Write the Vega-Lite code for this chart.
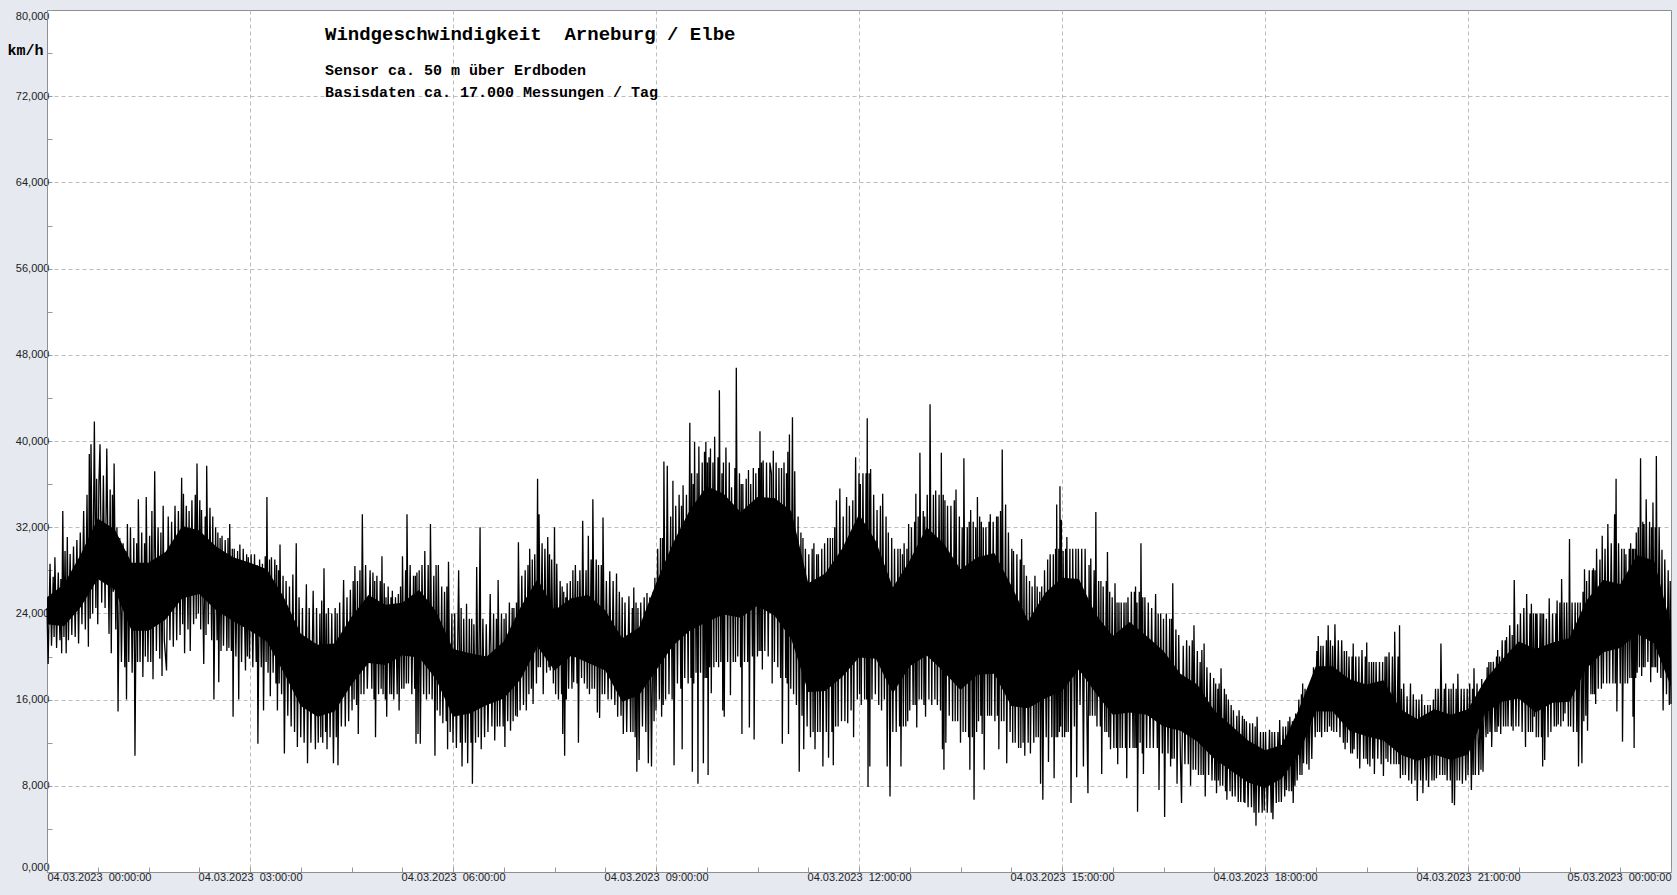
{
"$schema": "https://vega.github.io/schema/vega-lite/v6.json",
"width": 1624, "height": 862,
"autosize": {"type": "none"},
"padding": {"left": 47, "top": 10, "right": 6, "bottom": 23},
"background": "#e6e9f0",
"config": {"view": {"fill": "#ffffff", "stroke": "#8f8f8f", "strokeWidth": 1}, "font": "Liberation Sans"},
"title": {"text": "Windgeschwindigkeit\u00a0 Arneburg / Elbe", "subtitle": ["Sensor ca. 50 m über Erdboden", "Basisdaten ca. 17.000 Messungen / Tag"], "orient": "top", "anchor": "start", "frame": "group", "dx": 278, "offset": -90, "font": "Liberation Mono", "fontSize": 19, "fontWeight": "bold", "color": "#000000", "subtitleFont": "Liberation Mono", "subtitleFontSize": 15, "subtitleFontWeight": "bold", "subtitleColor": "#000000", "subtitlePadding": 19, "subtitleLineHeight": 21.5},
"datasets": {
"band": [
{"m":0,"lo":23,"hi":25.5},{"m":15,"lo":22.8,"hi":26.7},{"m":30,"lo":24.6,"hi":29.5},{"m":45,"lo":27.2,"hi":32.8},{"m":60,"lo":26.2,"hi":31.8},{"m":75,"lo":22.4,"hi":28.7},{"m":90,"lo":22.4,"hi":28.7},{"m":105,"lo":23.4,"hi":29.7},{"m":120,"lo":25.4,"hi":32.1},{"m":135,"lo":25.8,"hi":31.7},{"m":150,"lo":24.3,"hi":30.2},{"m":165,"lo":23.3,"hi":29.2},{"m":180,"lo":22.4,"hi":28.7},{"m":195,"lo":21.4,"hi":28.1},{"m":210,"lo":18.5,"hi":25.5},{"m":225,"lo":15.4,"hi":22.1},{"m":240,"lo":14.4,"hi":21.1},{"m":255,"lo":14.9,"hi":21.2},{"m":270,"lo":17.4,"hi":23.7},{"m":285,"lo":19.4,"hi":25.7},{"m":300,"lo":19.2,"hi":24.8},{"m":315,"lo":20.1,"hi":25},{"m":330,"lo":19.9,"hi":26.2},{"m":345,"lo":17.9,"hi":24.2},{"m":360,"lo":14.4,"hi":20.7},{"m":375,"lo":14.7,"hi":20.3},{"m":390,"lo":15.5,"hi":20},{"m":405,"lo":16.1,"hi":21.4},{"m":420,"lo":17.9,"hi":24.6},{"m":435,"lo":20.9,"hi":27.2},{"m":450,"lo":18.7,"hi":24.3},{"m":465,"lo":20.1,"hi":25.4},{"m":480,"lo":19.4,"hi":25.7},{"m":495,"lo":18.7,"hi":24.3},{"m":510,"lo":15.8,"hi":21.7},{"m":525,"lo":16.4,"hi":22.7},{"m":540,"lo":18.7,"hi":26.8},{"m":555,"lo":21,"hi":30.5},{"m":570,"lo":22.4,"hi":33.6},{"m":585,"lo":23.2,"hi":35.8},{"m":600,"lo":23.9,"hi":35.1},{"m":615,"lo":23.6,"hi":33.4},{"m":630,"lo":24.7,"hi":34.8},{"m":645,"lo":23.8,"hi":34.7},{"m":660,"lo":21.6,"hi":33.5},{"m":675,"lo":16.7,"hi":26.8},{"m":690,"lo":16.8,"hi":27.7},{"m":705,"lo":18.1,"hi":30},{"m":720,"lo":19.9,"hi":33.2},{"m":735,"lo":19.8,"hi":30.7},{"m":750,"lo":16.6,"hi":26.4},{"m":765,"lo":19.1,"hi":28.9},{"m":780,"lo":20.1,"hi":32},{"m":795,"lo":18.6,"hi":30.5},{"m":810,"lo":16.9,"hi":28.1},{"m":825,"lo":18.3,"hi":29.2},{"m":840,"lo":18.4,"hi":29.6},{"m":855,"lo":15.4,"hi":26.6},{"m":870,"lo":15.2,"hi":23.3},{"m":885,"lo":16.1,"hi":25.9},{"m":900,"lo":16.8,"hi":27.3},{"m":915,"lo":18.8,"hi":27.2},{"m":930,"lo":16.6,"hi":23.9},{"m":945,"lo":14.6,"hi":21.9},{"m":960,"lo":14.8,"hi":23.2},{"m":975,"lo":14.6,"hi":21.9},{"m":990,"lo":13.5,"hi":20.5},{"m":1005,"lo":13.1,"hi":18.4},{"m":1020,"lo":12.1,"hi":17.4},{"m":1035,"lo":10.5,"hi":15},{"m":1050,"lo":9.4,"hi":13.6},{"m":1065,"lo":8.3,"hi":12.2},{"m":1080,"lo":7.8,"hi":11.3},{"m":1095,"lo":8.7,"hi":11.8},{"m":1110,"lo":10.9,"hi":15.1},{"m":1125,"lo":14.9,"hi":19.1},{"m":1140,"lo":14.9,"hi":19.1},{"m":1155,"lo":13.1,"hi":17.9},{"m":1170,"lo":12.6,"hi":17.4},{"m":1185,"lo":12.2,"hi":17.8},{"m":1200,"lo":10.9,"hi":15.1},{"m":1215,"lo":10.3,"hi":14.2},{"m":1230,"lo":10.9,"hi":15.1},{"m":1245,"lo":10.4,"hi":14.6},{"m":1260,"lo":10.9,"hi":15.1},{"m":1275,"lo":14.7,"hi":17.8},{"m":1290,"lo":15.8,"hi":19.7},{"m":1305,"lo":16.1,"hi":21.4},{"m":1320,"lo":14.8,"hi":20.7},{"m":1335,"lo":15.7,"hi":21.3},{"m":1350,"lo":15.8,"hi":21.7},{"m":1365,"lo":18.9,"hi":25.2},{"m":1380,"lo":20.4,"hi":27.1},{"m":1395,"lo":20.8,"hi":26.7},{"m":1410,"lo":22.1,"hi":29.4},{"m":1425,"lo":21.2,"hi":28.9},{"m":1440,"lo":17.2,"hi":22.8}
],
"wind": [
{"m":0,"v":24.5},{"m":1,"v":19.3},{"m":2.7,"v":28.6},{"m":4,"v":21},{"m":5.5,"v":27.4},{"m":6.3,"v":21.8},{"m":7,"v":29.2},{"m":8.5,"v":20.8},{"m":10,"v":27.8},{"m":11.5,"v":21.5},{"m":12.3,"v":27.2},{"m":13,"v":20.3},{"m":14,"v":33.5},
{"m":15,"v":21.8},{"m":16,"v":29.8},{"m":17,"v":20.3},{"m":18,"v":31.1},{"m":19,"v":21.5},{"m":20.5,"v":29.5},{"m":22,"v":22},{"m":23.5,"v":30.2},{"m":25,"v":21.8},{"m":26.5,"v":30.8},{"m":28,"v":21.2},{"m":29.5,"v":31.5},
{"m":31,"v":23},{"m":32.5,"v":33.5},{"m":34,"v":22.5},{"m":35.5,"v":35},{"m":36.7,"v":20.9},{"m":37.5,"v":38.8},{"m":38.3,"v":23.5},{"m":39,"v":39.7},{"m":40.5,"v":24},{"m":42,"v":41.8},{"m":43.3,"v":24.5},{"m":44,"v":36.5},{"m":45,"v":23},
{"m":46,"v":36},{"m":47,"v":39.7},{"m":48.5,"v":25},{"m":50,"v":36.8},{"m":51.5,"v":24.5},{"m":53,"v":39.3},{"m":55,"v":22.1},{"m":56,"v":35.5},{"m":57,"v":20.3},{"m":58,"v":35},{"m":58.8,"v":26},{"m":59.5,"v":37.9},
{"m":61,"v":22.5},{"m":62,"v":32},{"m":63,"v":14.9},{"m":64.5,"v":31},{"m":66,"v":19.5},{"m":67.5,"v":30.5},{"m":69,"v":19},{"m":69.8,"v":29.8},{"m":70.5,"v":16},{"m":71.3,"v":32.3},{"m":72.5,"v":19.5},{"m":74,"v":32},
{"m":75.5,"v":18.5},{"m":77,"v":31},{"m":78,"v":10.8},{"m":79.5,"v":30.5},{"m":80.3,"v":19.5},{"m":81,"v":34.6},{"m":82.5,"v":19.5},{"m":84,"v":31.5},{"m":85,"v":18.1},{"m":86.5,"v":30.5},{"m":87.2,"v":20},{"m":88,"v":34.8},{"m":89.5,"v":19.5},
{"m":91,"v":31.2},{"m":92,"v":19.5},{"m":93,"v":33.5},{"m":94,"v":17.9},{"m":95.5,"v":37.2},{"m":97,"v":20.5},{"m":98.5,"v":32},{"m":100,"v":19.8},{"m":101,"v":31.5},{"m":102,"v":18.2},{"m":103,"v":34},{"m":104,"v":21.5},
{"m":106,"v":18.7},{"m":107.5,"v":33},{"m":109,"v":21.5},{"m":110.5,"v":32.5},{"m":112,"v":20.9},{"m":113.5,"v":34},{"m":115,"v":21.5},{"m":116.5,"v":33.5},{"m":118,"v":22},{"m":119.4,"v":36.6},
{"m":120.3,"v":23},{"m":121,"v":35.1},{"m":122,"v":20.3},{"m":123.5,"v":34},{"m":125,"v":22.5},{"m":126,"v":33.5},{"m":127,"v":20.5},{"m":128.5,"v":34.5},{"m":130,"v":23},{"m":131.5,"v":35},{"m":132.3,"v":23.5},{"m":133,"v":37.9},{"m":134.2,"v":24},
{"m":135.5,"v":34.5},{"m":136.3,"v":22.5},{"m":137,"v":33.6},{"m":139,"v":19.3},{"m":140.3,"v":33},{"m":141,"v":22},{"m":141.6,"v":37.7},{"m":143,"v":23},{"m":144.5,"v":33.8},{"m":146,"v":21.5},{"m":147,"v":33},{"m":148,"v":16},{"m":149.5,"v":32},
{"m":150.8,"v":21.5},{"m":151.5,"v":31.5},{"m":152.3,"v":17.6},{"m":153.5,"v":31},{"m":154.3,"v":20.5},{"m":155.2,"v":31.2},{"m":156.5,"v":21},{"m":158,"v":30.8},{"m":159.5,"v":20.5},{"m":160.5,"v":31},{"m":161.3,"v":20.8},{"m":162,"v":32.3},{"m":163.5,"v":20.5},{"m":164.3,"v":30},{"m":165,"v":14.4},
{"m":166,"v":30},{"m":167.5,"v":20},{"m":169,"v":29.8},{"m":170,"v":16},{"m":171,"v":30.4},{"m":172.5,"v":19.5},{"m":174,"v":30},{"m":176,"v":18.7},{"m":177,"v":29.5},{"m":177.7,"v":20},{"m":178.5,"v":29.2},{"m":179.5,"v":19.8},
{"m":181,"v":29.5},{"m":182.5,"v":19},{"m":184,"v":29.5},{"m":185.5,"v":19.5},{"m":186.3,"v":28.5},{"m":187,"v":11.9},{"m":188.5,"v":29},{"m":190,"v":19},{"m":191,"v":28.6},{"m":192,"v":15},{"m":193.5,"v":29.3},{"m":194.3,"v":19.5},{"m":195,"v":34.8},
{"m":196,"v":18.5},{"m":197.3,"v":29},{"m":198,"v":16.3},{"m":199,"v":29.2},{"m":200.5,"v":18.5},{"m":202,"v":29},{"m":203,"v":17.5},{"m":203.6,"v":28.5},{"m":204.3,"v":15},{"m":205.3,"v":28},{"m":205.9,"v":17.5},{"m":206.6,"v":30.4},{"m":208,"v":16.5},{"m":209.3,"v":27.5},
{"m":210.5,"v":11},{"m":212,"v":27},{"m":213.5,"v":14.5},{"m":215,"v":26.5},{"m":216.5,"v":13.5},{"m":218,"v":27.6},{"m":219.5,"v":13},{"m":221,"v":30.5},{"m":222,"v":11.6},{"m":223.5,"v":25.5},{"m":225,"v":12.5},
{"m":226.5,"v":24.5},{"m":228,"v":12},{"m":230,"v":26.7},{"m":231,"v":10.1},{"m":232.5,"v":24.5},{"m":234,"v":12},{"m":236,"v":26.1},{"m":238,"v":11.4},{"m":239,"v":24.5},
{"m":240.5,"v":12},{"m":242,"v":24},{"m":242.8,"v":12.5},{"m":243.6,"v":25.2},{"m":244.5,"v":12},{"m":245.6,"v":28.2},{"m":247,"v":13},{"m":247.6,"v":24},{"m":248.3,"v":11.4},{"m":249.5,"v":24.5},{"m":251,"v":12.5},{"m":252.5,"v":24},{"m":254,"v":10.1},
{"m":255.5,"v":24.5},{"m":256.5,"v":12.5},{"m":257.3,"v":24},{"m":258,"v":9.9},{"m":259.5,"v":25},{"m":261,"v":13.5},{"m":263,"v":27.1},{"m":264.5,"v":13.5},{"m":266,"v":25.5},{"m":267.5,"v":14},{"m":269,"v":26.2},
{"m":270.5,"v":15},{"m":271.5,"v":27},{"m":272.3,"v":16},{"m":273,"v":28.4},{"m":274.5,"v":15.5},{"m":275.3,"v":27},{"m":276,"v":12.8},{"m":277.5,"v":28},{"m":278.5,"v":16.5},{"m":279.6,"v":33.2},{"m":281,"v":16.5},{"m":282.5,"v":28.5},{"m":284,"v":17},
{"m":286.5,"v":28},{"m":288,"v":17},{"m":289,"v":27.8},{"m":290,"v":16},{"m":290.6,"v":27},{"m":291.3,"v":12.5},{"m":292.5,"v":27.5},{"m":294,"v":16.5},{"m":295.5,"v":27},{"m":296.3,"v":17},{"m":297,"v":29.3},{"m":298,"v":16.5},{"m":299,"v":26.8},
{"m":300,"v":16},{"m":300.6,"v":25.5},{"m":301.2,"v":14.4},{"m":302.5,"v":26.5},{"m":304,"v":16.5},{"m":305,"v":25.5},{"m":305.6,"v":16.5},{"m":306.2,"v":26.1},{"m":307.5,"v":16},{"m":309,"v":25.5},{"m":310.5,"v":16.5},{"m":311.5,"v":25.8},{"m":312.2,"v":15},{"m":313.5,"v":26.5},{"m":314.5,"v":17},
{"m":315.2,"v":29.3},{"m":316.5,"v":17},{"m":318,"v":28},{"m":318.6,"v":17.5},{"m":319.2,"v":33.2},{"m":320.5,"v":17.5},{"m":322,"v":28.5},{"m":323.5,"v":16.5},{"m":325,"v":27.5},{"m":326,"v":17},{"m":326.6,"v":27.5},{"m":327.2,"v":11.9},{"m":328,"v":27.8},{"m":329,"v":12.8},{"m":330,"v":28},
{"m":331,"v":11.9},{"m":332.5,"v":28.5},{"m":334,"v":16.5},{"m":335,"v":29.8},{"m":336.5,"v":16},{"m":338,"v":28.5},{"m":339,"v":16.5},{"m":340,"v":32.3},{"m":341.5,"v":16},{"m":343,"v":27.5},{"m":344,"v":10.8},{"m":345,"v":28.5},
{"m":346,"v":15},{"m":347,"v":28.5},{"m":348.5,"v":14.5},{"m":350,"v":26.5},{"m":351,"v":13.8},{"m":352.5,"v":26},{"m":354,"v":14},{"m":354.6,"v":26.5},{"m":355.2,"v":11.4},{"m":356,"v":28.8},{"m":357.5,"v":13},{"m":359,"v":24},
{"m":360,"v":12},{"m":361.5,"v":24},{"m":363,"v":11.5},{"m":365,"v":28},{"m":366.5,"v":12},{"m":367.2,"v":24.5},{"m":368,"v":9.8},{"m":369.5,"v":23.5},{"m":371,"v":12},{"m":372,"v":24.9},{"m":373,"v":10.1},{"m":374.5,"v":23.5},
{"m":376,"v":12},{"m":376.6,"v":23.5},{"m":377.2,"v":8.2},{"m":378.5,"v":23},{"m":380,"v":12},{"m":381,"v":28.3},{"m":382.5,"v":12.5},{"m":384,"v":32},{"m":385,"v":11.4},{"m":386.5,"v":23.5},{"m":388,"v":12.5},{"m":389.5,"v":23},
{"m":391,"v":13},{"m":393,"v":25.8},{"m":394.5,"v":13.5},{"m":396,"v":24},{"m":397,"v":12.2},{"m":398.5,"v":23.5},{"m":399.3,"v":13.5},{"m":400,"v":27.1},{"m":401.5,"v":13.5},{"m":403,"v":24},{"m":404.5,"v":13.5},{"m":405.3,"v":23.5},{"m":406,"v":11.6},
{"m":407,"v":24},{"m":408.5,"v":14},{"m":410,"v":25},{"m":411,"v":13.1},{"m":412.5,"v":24.5},{"m":413.3,"v":14},{"m":414,"v":24.5},{"m":415.5,"v":14.5},{"m":416.3,"v":25},{"m":417,"v":14.4},{"m":418,"v":30.6},{"m":419.5,"v":15},
{"m":421,"v":27.5},{"m":422.5,"v":15.5},{"m":424,"v":28},{"m":425,"v":15},{"m":426.5,"v":28.5},{"m":427.3,"v":16.5},{"m":428,"v":30},{"m":429.5,"v":17},{"m":430.3,"v":29},{"m":431,"v":15.6},{"m":432.5,"v":29.5},{"m":434,"v":17.5},{"m":435,"v":36.5},
{"m":435.6,"v":19},{"m":436.3,"v":33.2},{"m":437.5,"v":19},{"m":439,"v":30.5},{"m":440,"v":16.5},{"m":441.5,"v":30},{"m":443,"v":18.5},{"m":444,"v":31.1},{"m":445,"v":19},{"m":445.6,"v":29.5},{"m":446.2,"v":18.7},{"m":447.5,"v":29},{"m":449,"v":17.5},{"m":450,"v":32},
{"m":451,"v":16.5},{"m":452,"v":28.6},{"m":453.5,"v":16},{"m":455,"v":27},{"m":456.3,"v":16.5},{"m":456.8,"v":26.5},{"m":457.3,"v":12.8},{"m":458.2,"v":26},{"m":459,"v":10.8},{"m":460,"v":25.5},{"m":460.5,"v":16},{"m":461.2,"v":26.8},{"m":462.5,"v":17},{"m":464,"v":27},
{"m":465.5,"v":17},{"m":466.3,"v":28},{"m":467,"v":17.6},{"m":468.5,"v":28.5},{"m":470,"v":17.5},{"m":470.6,"v":27},{"m":471.2,"v":12},{"m":472.5,"v":28},{"m":474,"v":18},{"m":475,"v":32.6},{"m":476.5,"v":17.5},{"m":478,"v":28},{"m":479,"v":17},{"m":480,"v":31.2},
{"m":481,"v":16.5},{"m":482.5,"v":29},{"m":483.3,"v":17},{"m":484,"v":34.6},{"m":485.5,"v":17},{"m":487,"v":29},{"m":488,"v":14.8},{"m":489,"v":28.5},{"m":490,"v":14.3},{"m":491.5,"v":28.5},{"m":492.3,"v":16.5},{"m":493,"v":32.9},{"m":494.5,"v":16.5},
{"m":496,"v":27},{"m":497.5,"v":16},{"m":499,"v":27.9},{"m":500.5,"v":16},{"m":502,"v":27},{"m":503.5,"v":15.5},{"m":505,"v":27.7},{"m":506,"v":14.4},{"m":507.5,"v":26},{"m":509,"v":14.5},{"m":510,"v":25.5},
{"m":511,"v":12.8},{"m":512.5,"v":25},{"m":514,"v":13},{"m":516,"v":25.6},{"m":517.5,"v":13},{"m":519,"v":24.5},{"m":519.6,"v":13},{"m":520.3,"v":26.4},{"m":521.5,"v":12.5},{"m":522.3,"v":25},{"m":523,"v":9.3},{"m":524,"v":24.5},{"m":525,"v":10.4},
{"m":526.5,"v":25},{"m":528,"v":13.5},{"m":529.5,"v":25.5},{"m":531,"v":13},{"m":532,"v":25.9},{"m":533.2,"v":10.1},{"m":534.5,"v":25.5},{"m":536,"v":9.8},{"m":537.5,"v":26},{"m":538.3,"v":14},{"m":539,"v":27.3},
{"m":540,"v":15},{"m":541.5,"v":30},{"m":543,"v":16},{"m":544,"v":31},{"m":545,"v":14.4},{"m":545.8,"v":31},{"m":546.4,"v":15.5},{"m":547,"v":38.1},{"m":548.5,"v":16},{"m":550,"v":37.7},{"m":551.5,"v":16.5},{"m":553,"v":33},{"m":554.3,"v":16},{"m":555,"v":36.3},
{"m":556,"v":9.9},{"m":557.5,"v":34},{"m":559,"v":17.5},{"m":560.5,"v":35},{"m":562,"v":17},{"m":562.6,"v":34},{"m":563.2,"v":11.4},{"m":564,"v":35.9},{"m":565.5,"v":18},{"m":567,"v":35},{"m":568.5,"v":17.5},{"m":570,"v":41.7},
{"m":571,"v":18},{"m":571.6,"v":37},{"m":572.2,"v":9.3},{"m":573,"v":36},{"m":573.5,"v":17.5},{"m":574.2,"v":39.9},{"m":575.5,"v":18.5},{"m":576.5,"v":37},{"m":577.2,"v":8.2},{"m":578,"v":39.5},{"m":579.5,"v":18.5},{"m":581,"v":38},{"m":582,"v":10.1},{"m":583,"v":39},{"m":583.6,"v":18},{"m":584.2,"v":39.9},{"m":585,"v":18},{"m":585.6,"v":38},{"m":586.2,"v":9},
{"m":587,"v":38.5},{"m":587.6,"v":19},{"m":588.3,"v":39.3},{"m":589,"v":16.6},{"m":590.5,"v":38},{"m":591.3,"v":19},{"m":592,"v":40.4},{"m":593.5,"v":19.5},{"m":595,"v":38.5},{"m":595.5,"v":19},{"m":596.2,"v":44.7},{"m":597.5,"v":19.5},{"m":598.5,"v":37},{"m":599.2,"v":15},
{"m":599.8,"v":38},{"m":600.5,"v":14.4},{"m":602,"v":39.4},{"m":603.5,"v":19.5},{"m":605,"v":38},{"m":606,"v":16.4},{"m":607,"v":35.7},{"m":608.5,"v":19.5},{"m":610,"v":37.5},{"m":610.5,"v":19.5},{"m":611.2,"v":46.8},{"m":612.5,"v":20},{"m":614,"v":37},{"m":615,"v":19},
{"m":615.6,"v":36},{"m":616.2,"v":12.8},{"m":617,"v":36},{"m":618.5,"v":19.5},{"m":620,"v":36.5},{"m":621.3,"v":19.5},{"m":622,"v":37.3},{"m":622.8,"v":13.4},{"m":624,"v":36},{"m":625.5,"v":20},{"m":626.3,"v":37.5},{"m":627,"v":12.3},{"m":628.5,"v":37},{"m":630,"v":20},
{"m":631,"v":37.5},{"m":631.5,"v":20.5},{"m":632.2,"v":40.9},{"m":633,"v":20.5},{"m":633.6,"v":38},{"m":634.3,"v":18.8},{"m":635,"v":38.2},{"m":636.5,"v":20.5},{"m":638,"v":38},{"m":639.5,"v":20},{"m":641,"v":38},{"m":642.3,"v":37},{"m":643,"v":17.5},{"m":644,"v":39.1},
{"m":645,"v":19.5},{"m":646.5,"v":38},{"m":648,"v":19},{"m":649,"v":37.5},{"m":650.5,"v":18},{"m":651.3,"v":37.5},{"m":652,"v":11.9},{"m":653.5,"v":38},{"m":655,"v":18},{"m":655.7,"v":37},{"m":656.3,"v":17.5},{"m":656.9,"v":39},{"m":657.5,"v":12.8},{"m":658.3,"v":40.6},{"m":659.5,"v":17},
{"m":661,"v":42.2},{"m":662,"v":16.5},{"m":663,"v":37.2},{"m":664.5,"v":15.5},{"m":666,"v":33},{"m":667,"v":9.3},{"m":668.5,"v":31.5},{"m":669.5,"v":14.5},{"m":670.3,"v":31},{"m":671,"v":11.4},{"m":672.5,"v":30},{"m":674,"v":13.5},
{"m":675.5,"v":29.5},{"m":677,"v":12.5},{"m":678.5,"v":30},{"m":679.3,"v":13},{"m":680,"v":30.5},{"m":681,"v":11.4},{"m":682.5,"v":29.5},{"m":683.3,"v":13},{"m":684,"v":29.5},{"m":685.5,"v":13},{"m":687,"v":30},{"m":688,"v":9.8},{"m":689.5,"v":30.5},
{"m":691,"v":13},{"m":692.2,"v":31},{"m":693,"v":10.6},{"m":694.5,"v":31},{"m":696,"v":13},{"m":696.6,"v":31},{"m":697.2,"v":9.9},{"m":698.5,"v":32},{"m":699.3,"v":13.5},{"m":700,"v":34.5},{"m":701.5,"v":13.5},{"m":703,"v":35.6},{"m":704.5,"v":14},
{"m":706,"v":33},{"m":707.5,"v":14},{"m":709,"v":34.8},{"m":710,"v":13.8},{"m":711.5,"v":34},{"m":713,"v":15},{"m":714.5,"v":34.5},{"m":715.2,"v":12.5},{"m":717,"v":38.5},{"m":718.5,"v":16},{"m":720,"v":37},
{"m":720.5,"v":16.5},{"m":721.2,"v":36},{"m":722,"v":15.5},{"m":723.5,"v":37},{"m":725,"v":16},{"m":726.3,"v":37},{"m":726.8,"v":16},{"m":727.3,"v":42.1},{"m":728,"v":7.9},{"m":729,"v":37},{"m":729.6,"v":9.8},{"m":730.3,"v":37.4},{"m":731.5,"v":16},{"m":733,"v":35},{"m":734.5,"v":16.5},
{"m":736,"v":33.6},{"m":737.5,"v":15.5},{"m":739,"v":34},{"m":740,"v":15},{"m":741,"v":35.1},{"m":742.5,"v":16},{"m":744,"v":33},{"m":745,"v":9.8},{"m":746,"v":31.5},{"m":747.5,"v":7},{"m":749,"v":31},
{"m":750,"v":13},{"m":751.5,"v":30},{"m":753,"v":13},{"m":754.5,"v":30},{"m":756,"v":13.5},{"m":756.6,"v":30},{"m":757.2,"v":9.8},{"m":758.5,"v":29.5},{"m":759.3,"v":13.5},{"m":760,"v":30.5},{"m":761.5,"v":13.5},{"m":762.5,"v":30},{"m":763.2,"v":14},{"m":764,"v":32.3},{"m":765,"v":15},
{"m":766.5,"v":32},{"m":768,"v":15.5},{"m":769.3,"v":32.5},{"m":769.8,"v":15.5},{"m":770.4,"v":35.1},{"m":771.2,"v":13.4},{"m":772.5,"v":33},{"m":773.3,"v":16},{"m":774,"v":38.9},{"m":775.5,"v":16},{"m":777,"v":33.5},{"m":777.6,"v":15.5},{"m":778.3,"v":33},{"m":779,"v":14.4},
{"m":780.5,"v":35},{"m":782,"v":16},{"m":783,"v":43.4},{"m":784.5,"v":15.5},{"m":786,"v":35},{"m":787.3,"v":16},{"m":788,"v":35.4},{"m":789.5,"v":15.5},{"m":791,"v":35},{"m":792.3,"v":15},{"m":793,"v":38.9},{"m":794,"v":11.4},{"m":794.7,"v":35},{"m":795.3,"v":9.5},
{"m":796.2,"v":34.5},{"m":797,"v":12},{"m":798.5,"v":34},{"m":800,"v":14.5},{"m":801.5,"v":34},{"m":803,"v":14},{"m":804.5,"v":34.5},{"m":805.3,"v":14},{"m":806,"v":35.5},{"m":807.5,"v":14},{"m":809,"v":33},{"m":810,"v":12},
{"m":811.5,"v":32},{"m":812.3,"v":13},{"m":813,"v":38.4},{"m":814.5,"v":13},{"m":816,"v":32},{"m":817.2,"v":12.5},{"m":817.7,"v":32.5},{"m":818.3,"v":9.5},{"m":819,"v":33.6},{"m":820.5,"v":12.5},{"m":821.3,"v":32.5},{"m":822,"v":6.7},{"m":823.5,"v":32},{"m":824.3,"v":13},{"m":825,"v":34.8},
{"m":826,"v":14},{"m":827,"v":33},{"m":828,"v":14.5},{"m":828.5,"v":32.5},{"m":829.2,"v":12.8},{"m":830.2,"v":32},{"m":831,"v":9.5},{"m":832.5,"v":32},{"m":834,"v":14.5},{"m":835.3,"v":32.5},{"m":835.8,"v":14.5},{"m":836.4,"v":33.2},{"m":837.5,"v":14.5},{"m":839,"v":32.5},
{"m":840.5,"v":14},{"m":842,"v":33},{"m":842.7,"v":14.5},{"m":843.3,"v":33},{"m":844,"v":11.4},{"m":845.5,"v":33.5},{"m":846.3,"v":14},{"m":847,"v":39.2},{"m":848.5,"v":14},{"m":850,"v":34.1},{"m":851,"v":10.1},{"m":852.5,"v":31.5},{"m":854,"v":13},
{"m":855.5,"v":30},{"m":856.3,"v":12},{"m":857,"v":29.8},{"m":858.5,"v":12},{"m":860,"v":29.5},{"m":861.5,"v":11.5},{"m":863,"v":29},{"m":863.5,"v":11.5},{"m":864.2,"v":30.9},{"m":865.5,"v":12},{"m":866.3,"v":28.5},{"m":867,"v":10.8},{"m":868.5,"v":27.5},{"m":870,"v":12},
{"m":871.2,"v":27},{"m":872,"v":11},{"m":873.5,"v":26.5},{"m":875,"v":12},{"m":876,"v":27.5},{"m":877,"v":12.5},{"m":878,"v":26.5},{"m":879,"v":12.5},{"m":880.3,"v":26},{"m":881,"v":8.2},{"m":882,"v":26.5},{"m":883,"v":6.7},{"m":884.5,"v":28},
{"m":886,"v":12.5},{"m":887.3,"v":29},{"m":888,"v":10.2},{"m":889.5,"v":29.5},{"m":891,"v":12.5},{"m":892.3,"v":29.5},{"m":893,"v":8.7},{"m":894.3,"v":30},{"m":894.8,"v":12.5},{"m":895.3,"v":34.1},{"m":896.2,"v":12.5},{"m":897.2,"v":30},{"m":897.7,"v":13},{"m":898.2,"v":35.8},{"m":898.8,"v":13.5},{"m":899.4,"v":32.7},{"m":900.3,"v":12.5},
{"m":901,"v":29.8},{"m":902.3,"v":12.5},{"m":903.2,"v":30},{"m":903.7,"v":13},{"m":904.3,"v":31.1},{"m":905.5,"v":13},{"m":907,"v":30},{"m":908,"v":6.4},{"m":909.5,"v":30},{"m":911,"v":13.5},{"m":912.3,"v":30},{"m":913,"v":8.8},{"m":914.5,"v":30},
{"m":916,"v":15.5},{"m":917.5,"v":30},{"m":919,"v":9.8},{"m":920.5,"v":30},{"m":922,"v":15},{"m":923,"v":7.3},{"m":924,"v":28.5},{"m":924.8,"v":14.5},{"m":925.5,"v":29.1},{"m":927,"v":14.5},{"m":928.5,"v":28},{"m":929.3,"v":14.5},{"m":930,"v":33.4},
{"m":931,"v":13.5},{"m":932.5,"v":27},{"m":934,"v":13.5},{"m":934.5,"v":27},{"m":935.2,"v":9.1},{"m":936.5,"v":26.5},{"m":938,"v":13},{"m":939.3,"v":27},{"m":939.7,"v":13},{"m":940.3,"v":29.7},{"m":941.5,"v":12.5},{"m":942.3,"v":26},{"m":943,"v":11.4},{"m":944.5,"v":25.5},
{"m":946,"v":11.5},{"m":947,"v":26.8},{"m":948.3,"v":11.5},{"m":948.8,"v":25},{"m":949.4,"v":10},{"m":950.5,"v":25},{"m":951.5,"v":11.5},{"m":952.5,"v":25},{"m":953.5,"v":11.5},{"m":955,"v":25},{"m":956.3,"v":11.5},{"m":956.8,"v":25},{"m":957.4,"v":8.7},{"m":958.5,"v":25.5},{"m":960,"v":11.5},
{"m":961.5,"v":26},{"m":963,"v":11.5},{"m":964.2,"v":26},{"m":964.6,"v":11.5},{"m":965.2,"v":26.5},{"m":966,"v":11.5},{"m":966.5,"v":25},{"m":967,"v":5.6},{"m":968.5,"v":26},{"m":969.3,"v":12},{"m":970,"v":30.5},{"m":971.2,"v":11},{"m":971.6,"v":25.5},{"m":972.2,"v":9.1},{"m":973.5,"v":25.5},{"m":975,"v":11.5},
{"m":976.5,"v":25},{"m":978,"v":11.5},{"m":979.5,"v":24.5},{"m":981,"v":11.5},{"m":983,"v":25.8},{"m":984.5,"v":11.5},{"m":985.3,"v":24},{"m":986,"v":7.6},{"m":987.5,"v":24},{"m":989,"v":11},{"m":990,"v":23.5},
{"m":991,"v":5.1},{"m":992.5,"v":24},{"m":994,"v":11},{"m":995.5,"v":23.5},{"m":996.3,"v":9.8},{"m":997.2,"v":23.5},{"m":997.6,"v":10.5},{"m":998.2,"v":26.8},{"m":999.5,"v":10.5},{"m":1001,"v":22.5},{"m":1002,"v":8.2},{"m":1003.5,"v":22},{"m":1005,"v":10.5},
{"m":1006,"v":6.4},{"m":1007.5,"v":21},{"m":1009,"v":10},{"m":1010.5,"v":21.5},{"m":1012,"v":10},{"m":1013,"v":21},{"m":1014,"v":8},{"m":1015.5,"v":21.5},{"m":1016.3,"v":9.5},{"m":1017,"v":22.9},{"m":1018.5,"v":9.5},{"m":1020,"v":20.5},
{"m":1021,"v":9},{"m":1022.5,"v":19.5},{"m":1023.3,"v":9},{"m":1024,"v":20.6},{"m":1025.3,"v":9},{"m":1026,"v":21.2},{"m":1027,"v":7},{"m":1028.5,"v":19},{"m":1030,"v":9},{"m":1031.5,"v":18.5},{"m":1033,"v":8.5},{"m":1034.5,"v":18},
{"m":1035.5,"v":8.5},{"m":1036.3,"v":17.5},{"m":1037,"v":7.3},{"m":1038.2,"v":17},{"m":1038.7,"v":8.5},{"m":1039.3,"v":17.5},{"m":1040.2,"v":8},{"m":1041,"v":18.9},{"m":1042.5,"v":8},{"m":1044,"v":17},{"m":1045,"v":7.5},{"m":1045.6,"v":16.5},{"m":1046.2,"v":6.7},{"m":1047.5,"v":16},{"m":1049,"v":7.5},{"m":1050,"v":15.5},
{"m":1051,"v":7},{"m":1052,"v":15},{"m":1053.5,"v":7},{"m":1055,"v":14.5},{"m":1056.3,"v":6.5},{"m":1057,"v":15},{"m":1058.5,"v":6.5},{"m":1060,"v":14.5},{"m":1061.3,"v":6.5},{"m":1061.7,"v":14.2},{"m":1062.2,"v":6.4},{"m":1063.5,"v":14},{"m":1065,"v":6},
{"m":1066.5,"v":13.8},{"m":1068,"v":6},{"m":1069,"v":13.8},{"m":1070.3,"v":5.5},{"m":1071.3,"v":13.5},{"m":1072,"v":4.3},{"m":1073,"v":14.4},{"m":1074.5,"v":5.5},{"m":1076,"v":13},{"m":1077.5,"v":5.5},{"m":1078.5,"v":13},{"m":1079.3,"v":5.7},
{"m":1080.5,"v":13},{"m":1082,"v":5.5},{"m":1084,"v":13.2},{"m":1085.5,"v":5.5},{"m":1086.2,"v":13},{"m":1087,"v":4.9},{"m":1088.5,"v":13},{"m":1090,"v":6.4},{"m":1091.5,"v":13},{"m":1092.3,"v":6.5},{"m":1093,"v":14.1},{"m":1094.5,"v":6.5},
{"m":1096,"v":13.5},{"m":1097.5,"v":7},{"m":1098.3,"v":13.5},{"m":1099,"v":7.6},{"m":1100.5,"v":14},{"m":1101.3,"v":7.5},{"m":1102,"v":14.4},{"m":1103.5,"v":7.5},{"m":1104.3,"v":14},{"m":1105,"v":6.4},{"m":1106.2,"v":14.2},{"m":1106.6,"v":8},{"m":1107.2,"v":14.7},{"m":1108.5,"v":8.5},{"m":1110,"v":16},
{"m":1111,"v":9},{"m":1112.3,"v":16.5},{"m":1112.8,"v":9},{"m":1113.4,"v":17.5},{"m":1114.2,"v":10.1},{"m":1115.5,"v":17},{"m":1117,"v":10},{"m":1118.3,"v":17},{"m":1119,"v":9.5},{"m":1120,"v":17.5},{"m":1121.5,"v":10.5},{"m":1123,"v":19},{"m":1124.5,"v":12.5},
{"m":1126,"v":20.5},{"m":1126.5,"v":13},{"m":1127.2,"v":21.9},{"m":1128.5,"v":13},{"m":1129.5,"v":21},{"m":1130.2,"v":12.5},{"m":1131.5,"v":21},{"m":1133,"v":13},{"m":1134.5,"v":21.5},{"m":1135.3,"v":13},{"m":1136,"v":22.9},{"m":1137.2,"v":13.5},{"m":1138,"v":21.5},{"m":1139,"v":13.1},{"m":1140,"v":21},
{"m":1141,"v":13},{"m":1142,"v":23},{"m":1143.5,"v":13},{"m":1145,"v":21.5},{"m":1146.5,"v":12.5},{"m":1148,"v":21.5},{"m":1149.5,"v":12},{"m":1150.3,"v":20.5},{"m":1151,"v":11.4},{"m":1152.3,"v":20.5},{"m":1153,"v":12},{"m":1154.5,"v":20},
{"m":1156,"v":11},{"m":1157.2,"v":20},{"m":1157.6,"v":11},{"m":1158.2,"v":21.2},{"m":1159,"v":11.4},{"m":1160.5,"v":20},{"m":1162,"v":10.5},{"m":1163.3,"v":20},{"m":1164,"v":9.6},{"m":1166,"v":20.6},{"m":1167.5,"v":10.5},{"m":1169,"v":20},{"m":1169.6,"v":10.5},{"m":1170.2,"v":21.3},
{"m":1171,"v":10},{"m":1172.3,"v":19.5},{"m":1173,"v":9.8},{"m":1174.5,"v":19.5},{"m":1175.5,"v":10.5},{"m":1176.3,"v":19.5},{"m":1177,"v":9.1},{"m":1178.5,"v":19.5},{"m":1180,"v":10.5},{"m":1181.5,"v":19.5},{"m":1183,"v":10},{"m":1184.3,"v":19.5},{"m":1185,"v":8.9},
{"m":1186.5,"v":20},{"m":1187.3,"v":10.5},{"m":1188,"v":20},{"m":1189,"v":10.2},{"m":1190,"v":20.4},{"m":1191.5,"v":10},{"m":1193,"v":20},{"m":1194.3,"v":10},{"m":1195,"v":22.3},{"m":1196.5,"v":10},{"m":1198,"v":20},{"m":1198.7,"v":10},{"m":1199.3,"v":22.9},{"m":1200,"v":8.7},
{"m":1201,"v":17},{"m":1202.2,"v":9},{"m":1203,"v":17.5},{"m":1204.5,"v":9},{"m":1206,"v":16.3},{"m":1207.5,"v":8.5},{"m":1209,"v":17.5},{"m":1210,"v":8.2},{"m":1211.5,"v":16.5},{"m":1213,"v":8.5},{"m":1214.2,"v":16},{"m":1215,"v":6.6},
{"m":1216.5,"v":16},{"m":1218,"v":8.5},{"m":1219,"v":16.5},{"m":1220,"v":7.3},{"m":1221.5,"v":15.5},{"m":1223,"v":8.5},{"m":1224.3,"v":15.5},{"m":1225,"v":7.9},{"m":1226.5,"v":15.5},{"m":1228,"v":8.5},{"m":1229.3,"v":16},{"m":1230,"v":8.5},
{"m":1231.2,"v":17},{"m":1232,"v":8.7},{"m":1233.5,"v":17},{"m":1235,"v":9},{"m":1236,"v":21.2},{"m":1237.5,"v":9},{"m":1239,"v":17},{"m":1239.5,"v":9},{"m":1240.2,"v":17.5},{"m":1241.5,"v":8.5},{"m":1243,"v":17},{"m":1244.3,"v":8.5},{"m":1245,"v":17},
{"m":1246,"v":6.4},{"m":1247,"v":17.5},{"m":1248,"v":6.2},{"m":1249.5,"v":17},{"m":1250.3,"v":8.5},{"m":1251,"v":18.4},{"m":1252.5,"v":8.5},{"m":1254,"v":17},{"m":1255,"v":8.2},{"m":1256.5,"v":17},{"m":1258,"v":8.5},{"m":1259.3,"v":17},{"m":1260,"v":9},
{"m":1261.5,"v":17.5},{"m":1263,"v":7.6},{"m":1264,"v":17},{"m":1264.6,"v":9},{"m":1265.3,"v":18.9},{"m":1266.5,"v":9},{"m":1268,"v":17.5},{"m":1269.5,"v":9},{"m":1271,"v":17},{"m":1271.5,"v":9.5},{"m":1272.2,"v":17.9},{"m":1273.3,"v":9.3},{"m":1274.5,"v":17.5},
{"m":1276,"v":12.5},{"m":1277,"v":19},{"m":1277.6,"v":12.8},{"m":1278.5,"v":19.5},{"m":1279.5,"v":13},{"m":1280.3,"v":19.5},{"m":1281,"v":11.6},{"m":1282.5,"v":19.5},{"m":1284,"v":13},{"m":1285.3,"v":20},{"m":1285.7,"v":13},{"m":1286.3,"v":20.6},{"m":1287,"v":13.5},{"m":1288,"v":20},{"m":1289,"v":12.8},
{"m":1290.3,"v":21.5},{"m":1291.5,"v":13.5},{"m":1293,"v":21.5},{"m":1293.5,"v":13.5},{"m":1294.2,"v":21.8},{"m":1295.5,"v":13.5},{"m":1297,"v":22.9},{"m":1298.5,"v":13.5},{"m":1299.2,"v":22},{"m":1300,"v":13.1},{"m":1301,"v":27.1},{"m":1302.5,"v":13.5},{"m":1304,"v":23},{"m":1305,"v":13.5},
{"m":1306.5,"v":24},{"m":1308,"v":13},{"m":1309.5,"v":24.5},{"m":1311,"v":11.6},{"m":1312,"v":25.8},{"m":1313.5,"v":13},{"m":1315,"v":24},{"m":1315.5,"v":13},{"m":1316.2,"v":24.9},{"m":1317.3,"v":13},{"m":1318,"v":24},{"m":1318.8,"v":14.4},{"m":1320,"v":24},
{"m":1320.5,"v":12.5},{"m":1321.2,"v":24},{"m":1322.5,"v":12.5},{"m":1324,"v":24},{"m":1325.2,"v":12.5},{"m":1325.6,"v":24},{"m":1326.2,"v":9.8},{"m":1327,"v":24},{"m":1328,"v":10.4},{"m":1329.5,"v":23.5},{"m":1331,"v":12.5},{"m":1332,"v":25.4},{"m":1333.5,"v":13},{"m":1335,"v":24},
{"m":1336.5,"v":13.5},{"m":1338,"v":24},{"m":1338.4,"v":13.5},{"m":1339,"v":25.2},{"m":1340,"v":13.7},{"m":1341.5,"v":25},{"m":1342.3,"v":13.5},{"m":1343,"v":27.2},{"m":1344.5,"v":14},{"m":1345.3,"v":25},{"m":1346,"v":14.7},{"m":1347.5,"v":25},{"m":1349,"v":13.5},{"m":1350,"v":30.9},
{"m":1351,"v":13.5},{"m":1352.3,"v":25},{"m":1353.5,"v":13},{"m":1355,"v":25},{"m":1356.5,"v":13},{"m":1357.3,"v":25},{"m":1358,"v":9.8},{"m":1359.5,"v":25},{"m":1361,"v":10.1},{"m":1362,"v":26},{"m":1362.7,"v":14},{"m":1363.3,"v":28.1},{"m":1364.5,"v":14.5},
{"m":1365.2,"v":27},{"m":1366,"v":13.1},{"m":1367.5,"v":28},{"m":1369,"v":16.5},{"m":1370.3,"v":28},{"m":1370.6,"v":16.5},{"m":1371.2,"v":28.2},{"m":1372.2,"v":16.5},{"m":1372.6,"v":28},{"m":1373.2,"v":15.6},{"m":1374,"v":30},{"m":1375.5,"v":17},{"m":1377,"v":29},{"m":1378.3,"v":17},{"m":1379,"v":31.2},{"m":1380,"v":17.5},
{"m":1381.5,"v":30},{"m":1383,"v":17.5},{"m":1384,"v":32.3},{"m":1385.5,"v":17.5},{"m":1387,"v":30.5},{"m":1388.5,"v":17.5},{"m":1390,"v":33.2},{"m":1390.6,"v":17.5},{"m":1391.3,"v":36.5},{"m":1392,"v":14.9},{"m":1393.5,"v":30.5},{"m":1395,"v":17.5},
{"m":1396.3,"v":30},{"m":1397,"v":12.1},{"m":1398.5,"v":30},{"m":1399.3,"v":17.5},{"m":1400,"v":29.5},{"m":1401.5,"v":17.5},{"m":1403,"v":30},{"m":1403.5,"v":18},{"m":1404.2,"v":30.5},{"m":1405.3,"v":18},{"m":1405.8,"v":30},{"m":1406.3,"v":14.4},{"m":1406.8,"v":30},{"m":1407.3,"v":11.5},{"m":1408.3,"v":30},{"m":1408.7,"v":18},{"m":1409.2,"v":31.5},{"m":1410,"v":18.5},
{"m":1411,"v":32},{"m":1412,"v":19},{"m":1413,"v":38.4},{"m":1414,"v":18.2},{"m":1415,"v":32.5},{"m":1415.5,"v":19},{"m":1416.1,"v":32.3},{"m":1417,"v":19},{"m":1418,"v":34.6},{"m":1419.5,"v":19.5},{"m":1421,"v":32.5},{"m":1422,"v":17.6},{"m":1422.7,"v":32},{"m":1423.3,"v":19},{"m":1424,"v":34.3},{"m":1425,"v":19},
{"m":1426,"v":32},{"m":1426.4,"v":19},{"m":1427,"v":38.6},{"m":1428,"v":18.5},{"m":1429.5,"v":32},{"m":1431,"v":18},{"m":1432,"v":29.9},{"m":1433,"v":15},{"m":1434.5,"v":29},{"m":1436,"v":16.5},{"m":1437.5,"v":28},{"m":1438.5,"v":15.5},{"m":1439.3,"v":27},{"m":1440,"v":15.6}
]
},
"layer": [
{
"data": {"name": "band"},
"mark": {"type": "area", "color": "#000000", "opacity": 1},
"encoding": {
"x": {"field": "m", "type": "quantitative", "scale": {"domain": [0, 1440], "nice": false, "zero": false},
"axis": {"values": [0,45,90,135,180,225,270,315,360,405,450,495,540,585,630,675,720,765,810,855,900,945,990,1035,1080,1125,1170,1215,1260,1305,1350,1395,1440],
"labelExpr": "datum.value % 180 === 0 ? (datum.value === 1440 ? '05.03.2023\u00a0 00:00:00' : '04.03.2023\u00a0 ' + (datum.value < 600 ? '0' : '') + (datum.value / 60) + ':00:00') : ''",
"labelFlush": true, "labelOverlap": false, "labelFont": "Liberation Sans", "labelFontSize": 11, "labelColor": "#222222", "labelPadding": 4,
"grid": true, "gridDash": [4, 3], "gridColor": "#bdbdbd",
"gridOpacity": {"condition": {"test": "datum.value % 180 === 0 && datum.value > 0 && datum.value < 1440", "value": 1}, "value": 0},
"tickSize": -5, "tickColor": "#999999", "domainColor": "#8f8f8f", "title": null}},
"y": {"field": "lo", "type": "quantitative", "scale": {"domain": [0, 80], "nice": false},
"axis": {"values": [0,2,4,6,8,10,12,14,16,18,20,22,24,26,28,30,32,34,36,38,40,42,44,46,48,50,52,54,56,58,60,62,64,66,68,70,72,74,76,78,80],
"labelExpr": "datum.value % 8 === 0 ? replace(format(datum.value, '.3f'), '.', ',') : ''",
"labelFlush": true, "labelOverlap": false, "labelFont": "Liberation Sans", "labelFontSize": 11, "labelColor": "#222222", "labelPadding": 3,
"grid": true, "gridDash": [4, 3], "gridColor": "#bdbdbd",
"gridOpacity": {"condition": {"test": "datum.value % 8 === 0 && datum.value > 0 && datum.value < 80", "value": 1}, "value": 0},
"tickSize": -5, "tickColor": "#999999", "domainColor": "#8f8f8f",
"title": "km/h", "titleAngle": 0, "titleFont": "Liberation Mono", "titleFontSize": 15, "titleFontWeight": "bold", "titleColor": "#000000", "titleAlign": "right", "titleBaseline": "middle", "titleX": -4, "titleY": 39}},
"y2": {"field": "hi"}
}
},
{
"data": {"name": "wind"},
"mark": {"type": "line", "color": "#000000", "strokeWidth": 1.3},
"encoding": {
"x": {"field": "m", "type": "quantitative"},
"y": {"field": "v", "type": "quantitative"}
}
}
]
}
